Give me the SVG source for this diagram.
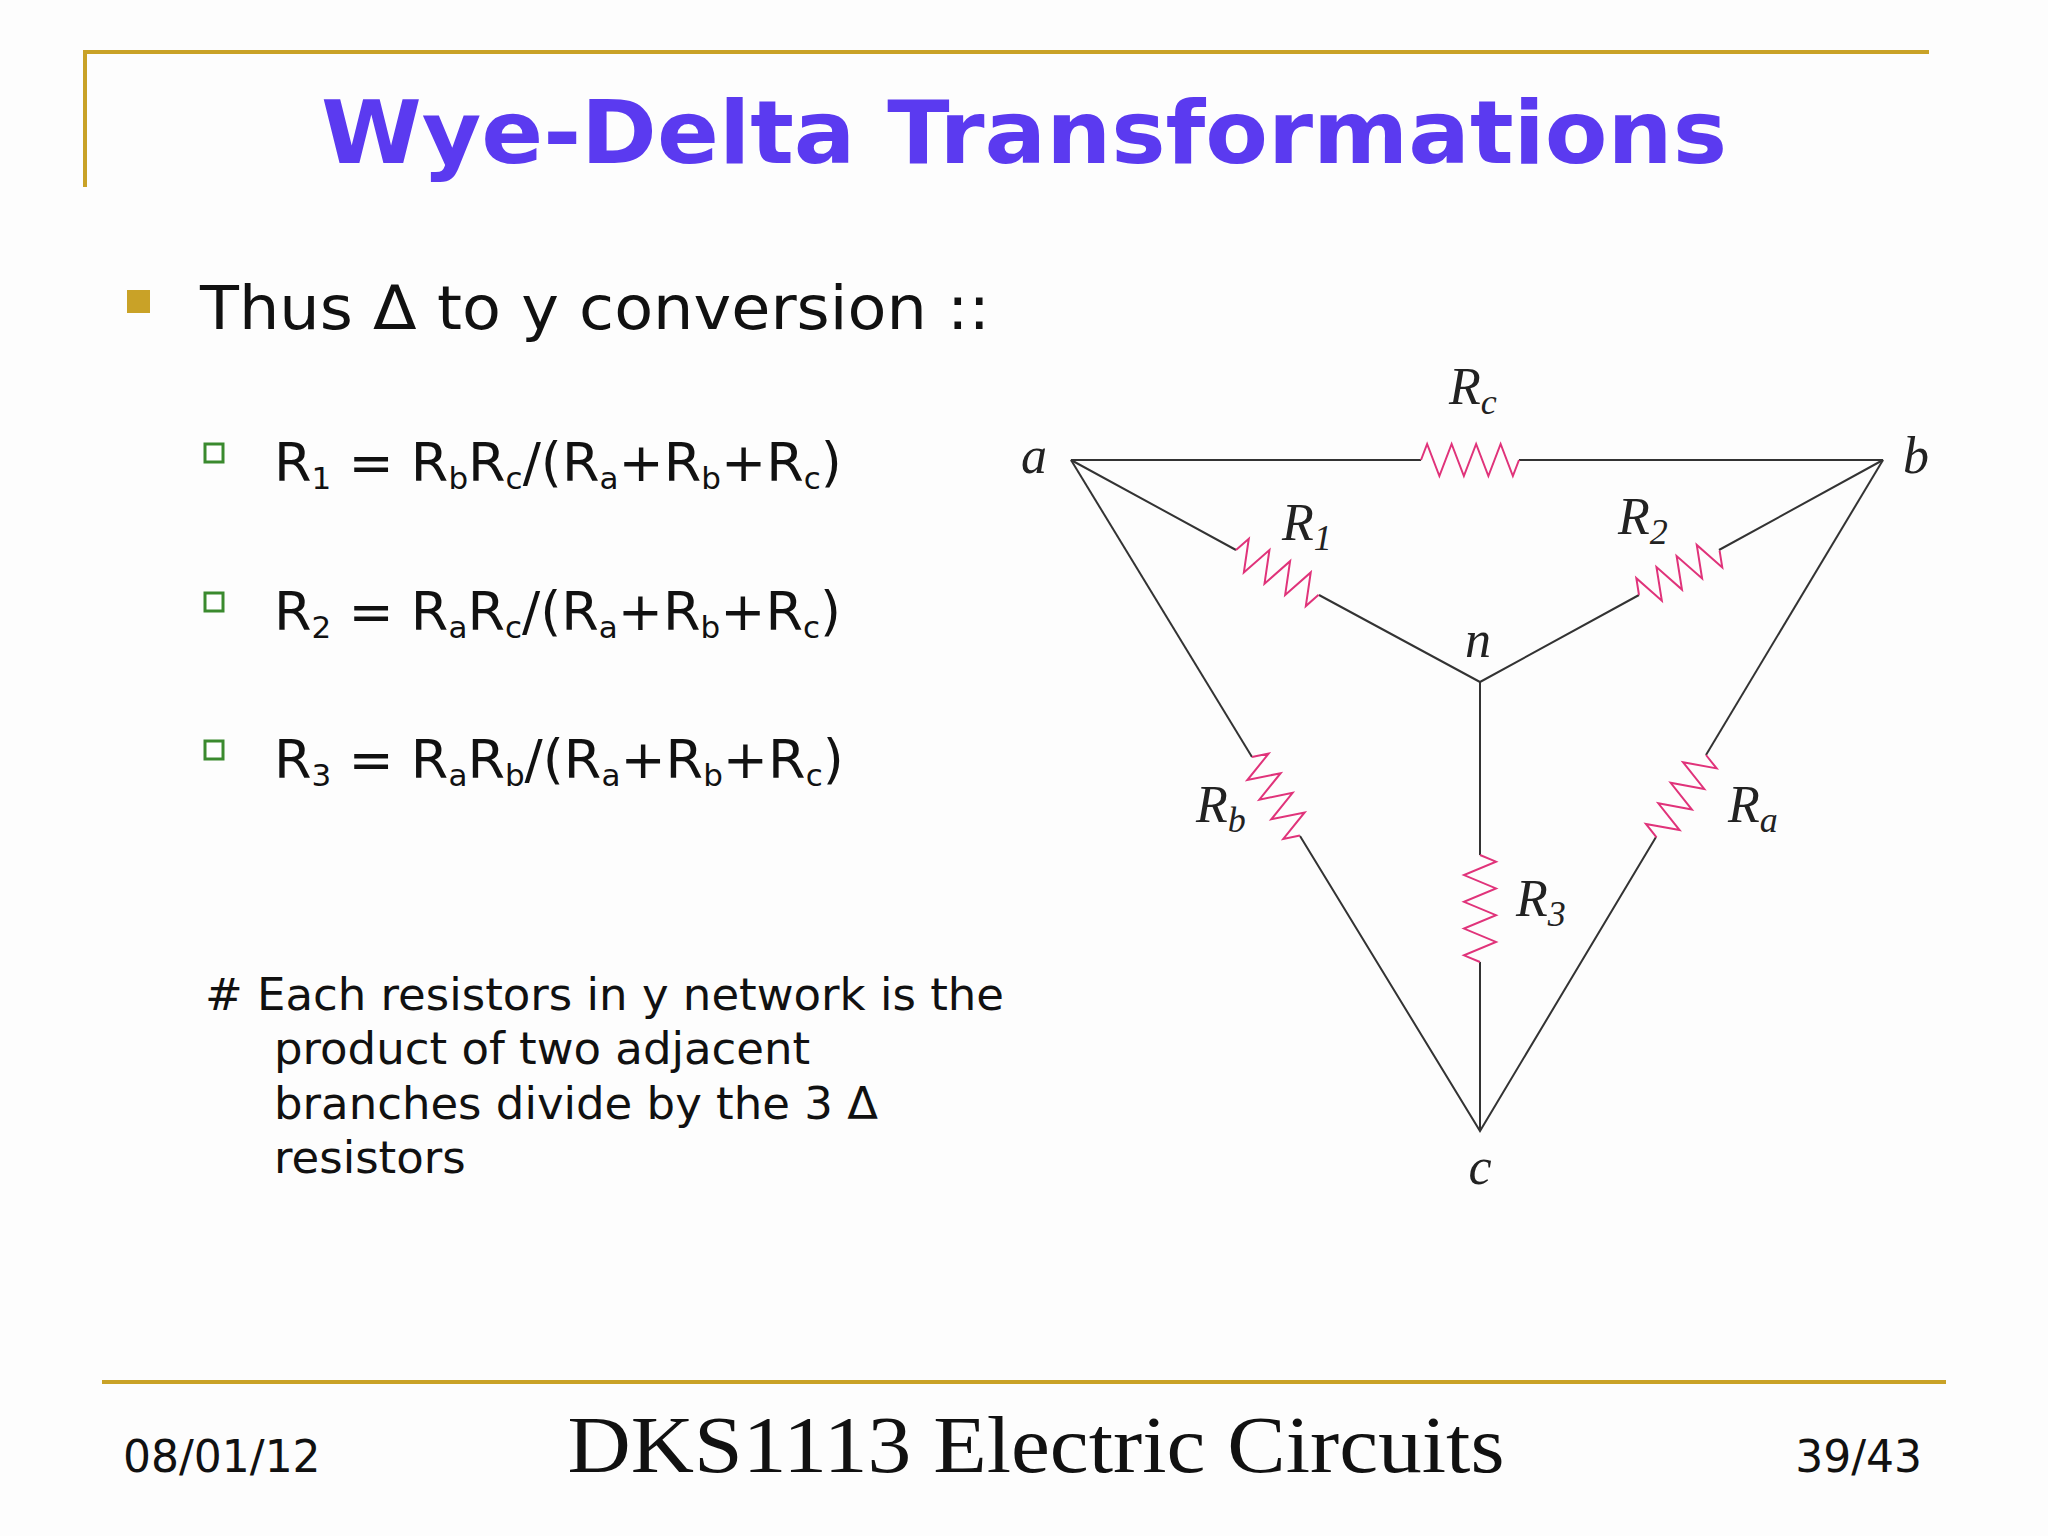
<svg xmlns="http://www.w3.org/2000/svg" width="2048" height="1536" viewBox="0 0 2048 1536">
<defs>
<style>
.frame{stroke:#C9A227;stroke-width:4;fill:none}
.wire{stroke:#333;stroke-width:2;fill:none}
.res{stroke:#E0337A;stroke-width:2;fill:none}
.lbl{font-family:"Liberation Serif",serif;font-style:italic;font-size:52px;fill:#222}
.sub{font-size:36px}
.body{font-family:"DejaVu Sans",Verdana,sans-serif;fill:#111}
.fs{font-size:31px}
.gb{fill:#fff;stroke:#3A8A2E;stroke-width:3}
</style>
<path id="zz" d="M0,0 L6.25,-16 L18.75,16 L31.25,-16 L43.75,16 L56.25,-16 L68.75,16 L81.25,-16 L93.75,16 L100,0" vector-effect="non-scaling-stroke"/>
</defs>
<rect width="2048" height="1536" fill="#FDFDFD"/>
<g id="frame">
<path class="frame" d="M85,187 V52 H1929"/>
<line class="frame" x1="102" y1="1382" x2="1946" y2="1382"/>
</g>
<text x="1024" y="163" text-anchor="middle" font-family="DejaVu Sans,Verdana,sans-serif" font-weight="bold" font-size="88" fill="#5B3AF0" textLength="1406" lengthAdjust="spacingAndGlyphs">Wye-Delta Transformations</text>
<rect x="127" y="290" width="23" height="23" fill="#C9A227"/>
<text class="body" x="200" y="329" font-size="60" textLength="790" lengthAdjust="spacingAndGlyphs">Thus Δ to y conversion ::</text>
<g id="formulas" class="body" font-size="54">
<rect class="gb" x="205" y="444" width="18" height="18"/>
<rect class="gb" x="205" y="593" width="18" height="18"/>
<rect class="gb" x="205" y="741" width="18" height="18"/>
<text x="274" y="481">R<tspan class="fs" dy="8">1</tspan><tspan dy="-8"> = R</tspan><tspan class="fs" dy="8">b</tspan><tspan dy="-8">R</tspan><tspan class="fs" dy="8">c</tspan><tspan dy="-8">/(R</tspan><tspan class="fs" dy="8">a</tspan><tspan dy="-8">+R</tspan><tspan class="fs" dy="8">b</tspan><tspan dy="-8">+R</tspan><tspan class="fs" dy="8">c</tspan><tspan dy="-8">)</tspan></text>
<text x="274" y="630">R<tspan class="fs" dy="8">2</tspan><tspan dy="-8"> = R</tspan><tspan class="fs" dy="8">a</tspan><tspan dy="-8">R</tspan><tspan class="fs" dy="8">c</tspan><tspan dy="-8">/(R</tspan><tspan class="fs" dy="8">a</tspan><tspan dy="-8">+R</tspan><tspan class="fs" dy="8">b</tspan><tspan dy="-8">+R</tspan><tspan class="fs" dy="8">c</tspan><tspan dy="-8">)</tspan></text>
<text x="274" y="778">R<tspan class="fs" dy="8">3</tspan><tspan dy="-8"> = R</tspan><tspan class="fs" dy="8">a</tspan><tspan dy="-8">R</tspan><tspan class="fs" dy="8">b</tspan><tspan dy="-8">/(R</tspan><tspan class="fs" dy="8">a</tspan><tspan dy="-8">+R</tspan><tspan class="fs" dy="8">b</tspan><tspan dy="-8">+R</tspan><tspan class="fs" dy="8">c</tspan><tspan dy="-8">)</tspan></text>
</g>
<g id="note" class="body" font-size="45">
<text x="205" y="1010">#  Each resistors in y network is the</text>
<text x="274" y="1064">product of two adjacent</text>
<text x="274" y="1119">branches divide by the 3 Δ</text>
<text x="274" y="1173">resistors</text>
</g>
<g id="connectors">
<polyline class="wire" points="1421,460 1071,460 1236,550"/>
<polyline class="wire" points="1519,460 1883,460 1719,550"/>
<polyline class="wire" points="1319,595 1480,682 1639,595"/>
<polyline class="wire" points="1480,855 1480,682"/>
<line class="wire" x1="1071" y1="460" x2="1252" y2="757"/>
<polyline class="wire" points="1300,836 1480,1131 1656,837"/>
<line class="wire" x1="1883" y1="460" x2="1706" y2="755"/>
<line class="wire" x1="1480" y1="962" x2="1480" y2="1131"/>
</g>
<g id="Rc"><use href="#zz" class="res" transform="translate(1421,460) scale(0.98,1)"/><text class="lbl" x="1449" y="404">R<tspan class="sub" dy="10">c</tspan></text></g>
<g id="R1"><use href="#zz" class="res" transform="translate(1236,550) rotate(28.5) scale(0.94,1)"/><text class="lbl" x="1282" y="540">R<tspan class="sub" dy="10">1</tspan></text></g>
<g id="R2"><use href="#zz" class="res" transform="translate(1639,595) rotate(-28.85) scale(0.92,1)"/><text class="lbl" x="1618" y="534">R<tspan class="sub" dy="10">2</tspan></text></g>
<g id="Rb"><use href="#zz" class="res" transform="translate(1252,757) rotate(58.6) scale(0.92,1)"/><text class="lbl" x="1196" y="822">R<tspan class="sub" dy="10">b</tspan></text></g>
<g id="Ra"><use href="#zz" class="res" transform="translate(1706,755) rotate(121) scale(0.96,1)"/><text class="lbl" x="1728" y="822">R<tspan class="sub" dy="10">a</tspan></text></g>
<g id="R3"><use href="#zz" class="res" transform="translate(1480,855) rotate(90) scale(1.07,1)"/><text class="lbl" x="1516" y="916">R<tspan class="sub" dy="10">3</tspan></text></g>
<g id="nodes" class="lbl" text-anchor="middle">
<text x="1034" y="473">a</text>
<text x="1916" y="473">b</text>
<text x="1478" y="657">n</text>
<text x="1480" y="1184">c</text>
</g>
<g id="footer">
<text x="123" y="1472" font-family="DejaVu Sans,Verdana,sans-serif" font-size="44" fill="#111">08/01/12</text>
<text x="1036" y="1472" text-anchor="middle" font-family="Liberation Serif,serif" font-size="80" fill="#111" textLength="937" lengthAdjust="spacingAndGlyphs">DKS1113 Electric Circuits</text>
<text x="1922" y="1472" text-anchor="end" font-family="DejaVu Sans,Verdana,sans-serif" font-size="44" fill="#111">39/43</text>
</g>
</svg>
